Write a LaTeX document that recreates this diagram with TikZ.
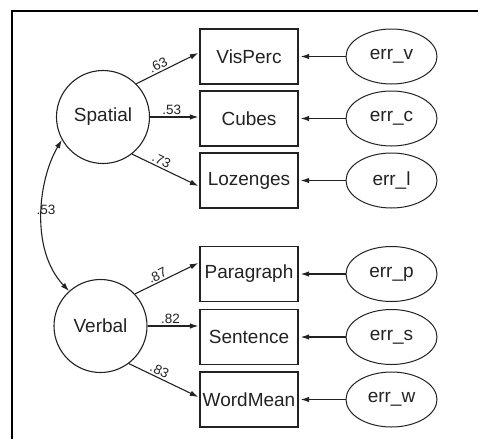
\documentclass[tikz,border=0pt]{standalone}
\usepackage{fontspec}
\setmainfont{Liberation Sans}
\usetikzlibrary{arrows.meta,shapes.geometric}
\definecolor{ink}{RGB}{34,34,34}
\begin{document}
\begin{tikzpicture}[x=1pt,y=-1pt,
  latent/.style={circle,draw=ink,line width=1.1pt,minimum size=93pt,inner sep=0pt,text=ink,font=\fontsize{19}{22}\selectfont},
  obs/.style={rectangle,draw=ink,line width=1.3pt,minimum width=98pt,minimum height=55pt,inner sep=0pt,text=ink,font=\fontsize{19}{22}\selectfont},
  errn/.style={ellipse,draw=ink,line width=1pt,minimum width=91pt,minimum height=55pt,inner sep=0pt,text=ink,font=\fontsize{19}{22}\selectfont},
  path/.style={draw=ink,line width=1.1pt,-{Latex[length=8.5pt,width=5.5pt]}},
  lab/.style={text=ink,font=\fontsize{13.5}{15}\selectfont,inner sep=1.5pt}
]
\useasboundingbox (0,0) rectangle (478,439);
\draw[line width=2.6pt,black] (12,439) -- (12,11) -- (478,11);

\node[latent] (sp) at (103,117) {Spatial};
\node[latent] (vb) at (100.5,326) {Verbal};

\node[obs] (vis) at (249,56.5) {VisPerc};
\node[obs] (cub) at (249,118.5) {Cubes};
\node[obs] (loz) at (249,180.5) {Lozenges};
\node[obs] (par) at (249,274) {Paragraph};
\node[obs] (sen) at (249,337) {Sentence};
\node[obs] (wor) at (249,399.5) {WordMean};

\node[errn] (ev) at (391.5,56.5) {err\_v};
\node[errn] (ec) at (391.5,118.5) {err\_c};
\node[errn] (el) at (391.5,180.5) {err\_l};
\node[errn] (ep) at (391.5,274) {err\_p};
\node[errn] (es) at (391.5,337) {err\_s};
\node[errn] (ew) at (391.5,399.5) {err\_w};

\draw[path] (sp.45) -- ([yshift=3.5pt,xshift=-1pt]vis.west) node[lab,pos=0.4,sloped,above] {.63};
\draw[path] (sp.east) -- ([xshift=-1pt]sp.east -| cub.west) node[lab,pos=0.45,above] {.53};
\draw[path] (sp.-52) -- ([yshift=-5.5pt,xshift=-1pt]loz.west) node[lab,pos=0.4,sloped,above] {.73};

\draw[path] (vb.43) -- ([yshift=11pt,xshift=-1pt]par.west) node[lab,pos=0.4,sloped,above] {.87};
\draw[path] (vb.east) -- ([xshift=-1pt]vb.east -| sen.west) node[lab,pos=0.45,above] {.82};
\draw[path] (vb.-53) -- ([yshift=2.5pt,xshift=-1pt]wor.west) node[lab,pos=0.4,sloped,above] {.83};

\foreach \e/\o in {ev/vis,ec/cub,el/loz,ep/par,es/sen,ew/wor}
  \draw[path] (\e.west) -- ([xshift=2pt]\o.east);

\draw[draw=ink,line width=1.1pt,{Latex[length=8.5pt,width=5.5pt]}-{Latex[length=8.5pt,width=5.5pt]}]
  (sp.209) .. controls (38,180) and (30,250) .. (vb.132);
\node[lab] (c53) at (46,210) {.53};
\end{tikzpicture}
\end{document}
